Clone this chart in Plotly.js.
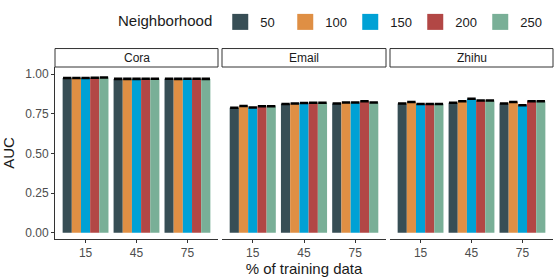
<!DOCTYPE html>
<html><head><meta charset="utf-8">
<script src="https://cdn.plot.ly/plotly-3.0.1.min.js"></script>
<style>html,body{margin:0;padding:0;background:#fff}#chart{width:560px;height:280px}</style>
</head><body><div id="chart"></div>
<script>
const trainingPct = ['15', '45', '75'];
const neighborhoods = ['50', '100', '150', '200', '250'];
const colors = ['#374E55', '#DF8F44', '#00A1D5', '#B24745', '#79AF97'];
const datasets = ['Cora', 'Email', 'Zhihu'];
// rows: neighborhood, columns: % training data
const coraAUC = [
  [0.977, 0.971, 0.972],
  [0.977, 0.971, 0.971],
  [0.977, 0.971, 0.972],
  [0.978, 0.972, 0.972],
  [0.979, 0.972, 0.971]
];
const emailAUC = [
  [0.788, 0.812, 0.815],
  [0.800, 0.815, 0.822],
  [0.790, 0.818, 0.822],
  [0.798, 0.820, 0.830],
  [0.798, 0.820, 0.822]
];
const zhihuAUC = [
  [0.815, 0.820, 0.815],
  [0.825, 0.830, 0.825],
  [0.812, 0.845, 0.805],
  [0.812, 0.835, 0.830],
  [0.812, 0.835, 0.830]
];
const errAUC = [0.0035, 0.0035, 0.0035];

const allData = [coraAUC, emailAUC, zhihuAUC];
const traces = [];
allData.forEach((d, di) => {
  neighborhoods.forEach((n, ni) => {
    traces.push({
      type: 'bar', name: n, x: trainingPct, y: d[ni],
      xaxis: di === 0 ? 'x' : 'x' + (di + 1), yaxis: di === 0 ? 'y' : 'y' + (di + 1),
      marker: {color: colors[ni], line: {width: 0}},
      legendgroup: n, showlegend: false,
      error_y: {type: 'data', array: errAUC, color: '#000', thickness: 1.4, width: 4.2},
      hoverinfo: 'skip'
    });
  });
});
// legend keys (no plotted points)
neighborhoods.forEach((n, ni) => {
  traces.push({type: 'scatter', mode: 'markers', name: n, x: [null], y: [null],
    marker: {color: colors[ni], symbol: 'square', size: 16}, legendgroup: n, showlegend: true});
});

const W = 498, l = 55;
const doms = [[0, 163 / W], [167 / W, 331 / W], [335 / W, 1]];
const font = {family: 'Liberation Sans, Arial, sans-serif', color: '#1a1a1a'};
const layout = {
  width: 560, height: 280,
  margin: {l: l, r: 7, t: 62, b: 41},
  paper_bgcolor: '#fff', plot_bgcolor: '#fff',
  font: font,
  barmode: 'group', bargap: 0.1, bargroupgap: 0,
  showlegend: true,
  legend: {orientation: 'h', x: (116 - l) / W, xanchor: 'left', y: 1.262, yanchor: 'middle',
    font: {size: 13, family: font.family, color: '#1a1a1a'},
    title: {text: 'Neighborhood', font: {size: 15, family: font.family, color: '#1a1a1a'}},
    itemwidth: 30, itemsizing: 'trace', traceorder: 'normal',
    entrywidth: 20, entrywidthmode: 'pixels'},
  shapes: [], annotations: []
};
const yr = [-0.04, 1.046];
datasets.forEach((name, i) => {
  const xs = i === 0 ? 'xaxis' : 'xaxis' + (i + 1);
  const ys = i === 0 ? 'yaxis' : 'yaxis' + (i + 1);
  layout[xs] = {
    domain: doms[i], anchor: i === 0 ? 'y' : 'y' + (i + 1), type: 'category',
    range: [-0.6, 2.6], showgrid: false, zeroline: false,
    showline: true, linecolor: '#333', linewidth: 1,
    ticks: 'outside', ticklen: 3, tickcolor: '#333',
    tickfont: {size: 12, color: '#4d4d4d', family: font.family}, fixedrange: true
  };
  layout[ys] = {
    domain: [0, 1], anchor: i === 0 ? 'x' : 'x' + (i + 1), range: yr,
    showgrid: false, zeroline: false, fixedrange: true,
    showline: i === 0, linecolor: '#333', linewidth: 1,
    ticks: i === 0 ? 'outside' : '', ticklen: 3, tickcolor: '#333',
    showticklabels: i === 0, tickvals: [0, 0.25, 0.5, 0.75, 1], tickformat: '.2f',
    tickfont: {size: 12, color: '#4d4d4d', family: font.family}
  };
  layout.shapes.push({type: 'rect', xref: 'paper', yref: 'paper',
    x0: doms[i][0], x1: doms[i][1], y0: 1.0, y1: 1 + 19 / 177,
    line: {color: '#333', width: 1}, fillcolor: '#fff'});
  layout.annotations.push({text: name, xref: 'paper', yref: 'paper',
    x: (doms[i][0] + doms[i][1]) / 2, y: 1 + 9.5 / 177, xanchor: 'center', yanchor: 'middle',
    showarrow: false, font: {size: 12, color: '#1a1a1a', family: font.family}});
});
layout.yaxis.title = {text: 'AUC', font: {size: 15, family: font.family, color: '#1a1a1a'}, standoff: 7};
layout.xaxis2.title = {text: '% of training data', font: {size: 15, family: font.family, color: '#1a1a1a'}, standoff: 4};
Plotly.newPlot('chart', traces, layout, {displayModeBar: false, staticPlot: true});
</script></body></html>
